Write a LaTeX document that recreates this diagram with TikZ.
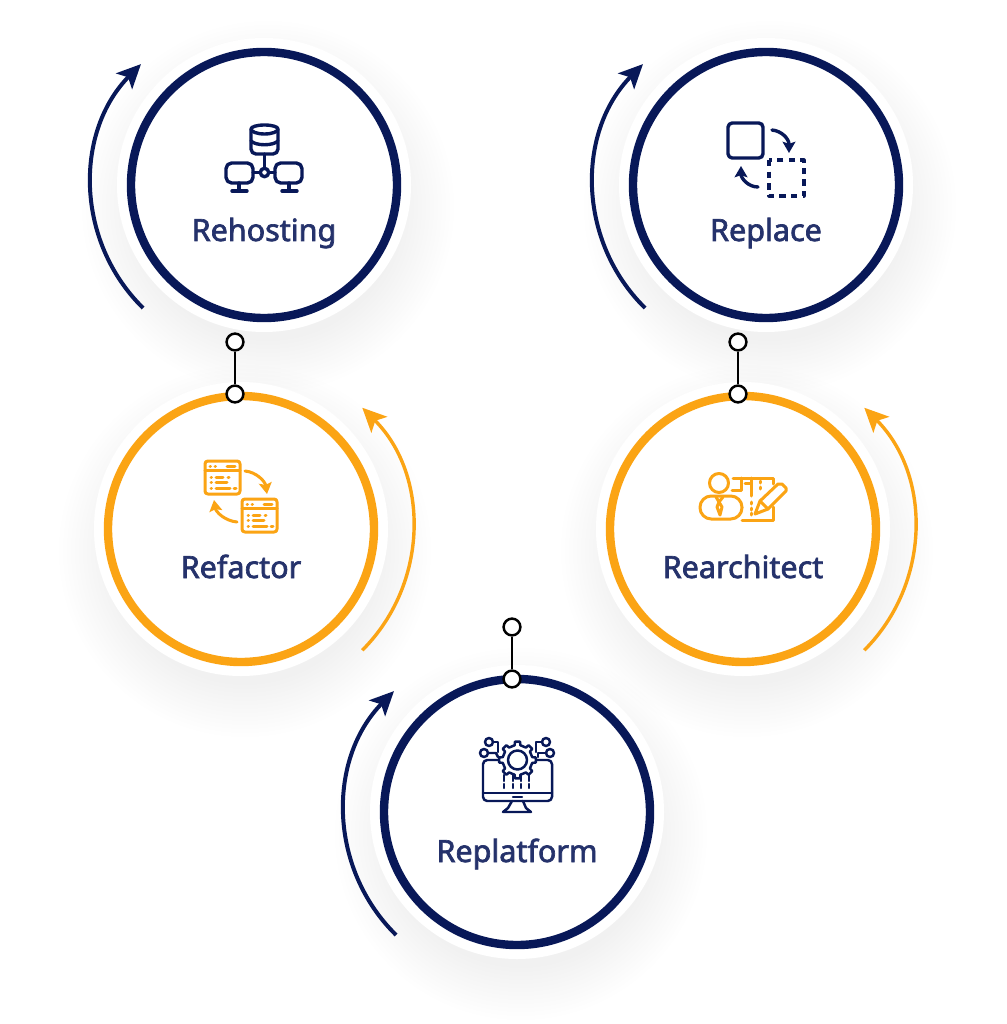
\documentclass[tikz,border=0pt]{standalone}
\usepackage{fontspec}
\setmainfont{Noto Sans}
\newfontfamily\labelfont{Noto Sans}[FakeBold=2.2]
\usepackage{xcolor}
\usetikzlibrary{
    arrows.meta,
    positioning,
    calc
}
\definecolor{navyline}{HTML}{081858}
\definecolor{orangeline}{HTML}{FBA414}
\definecolor{labeltext}{HTML}{25326B}
\tikzset{
    ring/.style={
        circle,
        draw,
        line width=2.1mm,
        fill=white,
        minimum size=66.5mm,
        inner sep=0pt
    }
}
\tikzset{
    steplabel/.style={
        anchor=base,
        font=\labelfont\fontsize{21.7}{26}\selectfont,
        text=labeltext,
        inner sep=0pt
    }
}
\tikzset{
    turn/.style={
        line width=1mm,
        -{Stealth[length=6mm,width=5.6mm,inset=1.4mm]}
    }
}
\tikzset{
    pin/.style={
        circle,
        draw=black,
        line width=0.62mm,
        fill=white,
        minimum size=4.2mm,
        inner sep=0pt
    }
}
\tikzset{
    pinline/.style={
        draw=black,
        line width=0.62mm
    }
}
\tikzset{
    icon/.style={
        line width=0.85mm,
        line join=round,
        line cap=round
    }
}
\tikzset{
    iconarrow/.style={
        icon,
        -{Stealth[length=2.8mm,width=3.2mm,inset=0.5mm]}
    }
}

\begin{document}
\begin{tikzpicture}[x=0.25mm, y=-0.25mm]

\useasboundingbox (0,0) rectangle (1006,1024);

% ------------------------------------------------------------
% Soft shadows and white halos
% ------------------------------------------------------------

\foreach \cx/\cy in {264/185,766/185,241/529,743/529,517/812} {
    \foreach \r in {134,138,...,186} {
        \fill[black, opacity=0.0024] (\cx+4,\cy+22) circle[radius=\r];
    }
}
\foreach \cx/\cy in {264/185,766/185,241/529,743/529,517/812} {
    \fill[white] (\cx,\cy) circle[radius=147];
}

% ------------------------------------------------------------
% Rings and names
% ------------------------------------------------------------

\node[ring, draw=navyline] (rehosting) at (264,185) {};
\node[ring, draw=navyline] (replace) at (766,185) {};
\node[ring, draw=orangeline] (refactor) at (241,529) {};
\node[ring, draw=orangeline] (rearchitect) at (743,529) {};
\node[ring, draw=navyline] (replatform) at (517,812) {};

\node[steplabel] (rehostinglabel) at (264,241) {Rehosting};
\node[steplabel] (replacelabel) at (766,241) {Replace};
\node[steplabel] (refactorlabel) at (241,578) {Refactor};
\node[steplabel] (rearchitectlabel) at (743,578) {Rearchitect};
\node[steplabel] (replatformlabel) at (517,862) {Replatform};

% ------------------------------------------------------------
% Turning arrows
% ------------------------------------------------------------

\draw[turn, navyline] (rehosting.center) ++(134.5:172.5) arc[start angle=134.5, end angle=224.5, radius=172.5];
\draw[turn, navyline] (replace.center) ++(134.5:172.5) arc[start angle=134.5, end angle=224.5, radius=172.5];
\draw[turn, navyline] (replatform.center) ++(134.5:172.5) arc[start angle=134.5, end angle=224.5, radius=172.5];
\draw[turn, orangeline, line width=0.85mm] (refactor.center) ++(45:171.5) arc[start angle=45, end angle=-45, radius=171.5];
\draw[turn, orangeline, line width=0.85mm] (rearchitect.center) ++(45:171.5) arc[start angle=45, end angle=-45, radius=171.5];

% ------------------------------------------------------------
% Pins
% ------------------------------------------------------------

\node[pin] (pinA) at (235,342) {};
\node[pin] (pinB) at (235,394) {};
\node[pin] (pinC) at (738,342) {};
\node[pin] (pinD) at (738,394) {};
\node[pin] (pinE) at (512,627) {};
\node[pin] (pinF) at (512,679) {};
\draw[pinline] (pinA) -- (pinB);
\draw[pinline] (pinC) -- (pinD);
\draw[pinline] (pinE) -- (pinF);

% ------------------------------------------------------------
% Icon: servers
% ------------------------------------------------------------

\begin{scope}[icon, draw=navyline, navyline]
    \draw (251,129) arc[start angle=180, end angle=360, x radius=13.5, y radius=4]
        arc[start angle=0, end angle=180, x radius=13.5, y radius=5];
    \draw (251,129) -- (251,149) arc[start angle=180, end angle=90, radius=5] -- (273,154)
        arc[start angle=90, end angle=0, radius=5] -- (278,129);
    \draw (251,141) .. controls (256,146) and (273,146) .. (278,141);
    \draw (264.5,154) -- (264.5,168);
    \draw (264.5,172.5) circle[radius=4.2];
    \draw (253,172.5) -- (260.3,172.5);
    \draw (268.7,172.5) -- (275,172.5);
    \draw[rounded corners=4pt] (226,163) rectangle (253,183);
    \draw[rounded corners=4pt] (275,163) rectangle (302,183);
    \draw (239,183) -- (239,191);
    \draw (232,191) -- (247,191);
    \draw (289,183) -- (289,191);
    \draw (282,191) -- (297,191);
\end{scope}

% ------------------------------------------------------------
% Icon: swap squares
% ------------------------------------------------------------

\begin{scope}[icon, draw=navyline]
    \draw[rounded corners=3pt] (728,123) rectangle (763,158);
    \draw[dash pattern=on 1.6mm off 1.3mm, line cap=butt, line width=0.8mm] (769,160) rectangle (804,196);
    \draw[iconarrow, navyline] (772,130) .. controls (782,131) and (789,139) .. (789,153);
    \draw[iconarrow, navyline] (758,187) .. controls (748,187) and (741,178) .. (741,166);
\end{scope}

% ------------------------------------------------------------
% Icon: two code windows
% ------------------------------------------------------------

\begin{scope}[icon, draw=orangeline, line width=0.75mm]
    \foreach \dx/\dy in {0/0,37/38} {
        \begin{scope}[shift={(\dx,\dy)}]
            \draw[rounded corners=2pt] (205,461) rectangle (240,494);
            \draw (205,470) -- (240,470);
            \draw (210,466) -- (210.5,466);
            \draw (215,466) -- (215.5,466);
            \draw (227,466) -- (235,466);
            \draw (211,477) -- (211.5,477);
            \draw (216,477) -- (223,477);
            \draw (228,477) -- (229,477);
            \draw (211,482) -- (211.5,482);
            \draw (216,482) -- (227,482);
            \draw (211,488) -- (211.5,488);
            \draw (216,488) -- (230,488);
            \draw (234,488) -- (236,488);
        \end{scope}
    }
    \draw[iconarrow, orangeline, line width=0.75mm] (245,471) .. controls (256,472) and (265,481) .. (267,494);
    \draw[iconarrow, orangeline, line width=0.75mm] (237,522) .. controls (225,521) and (216,512) .. (214,500);
\end{scope}

% ------------------------------------------------------------
% Icon: architect with plan
% ------------------------------------------------------------

\begin{scope}[icon, draw=orangeline, line width=0.75mm]
    \draw (719,483) circle[radius=9.5];
    \draw[rounded corners=8pt] (700,519) -- (700,496) -- (742,496) -- (742,519) -- cycle;
    \draw (716,497) -- (719,502) -- (723,497);
    \draw (717,507) -- (719,502) -- (722,507) -- (720,515) -- (717,507);
    \draw (733,478) -- (773,478) -- (773,484);
    \draw (732,490) -- (741,490) -- (741,478);
    \draw (745,483) -- (751,483);
    \draw (751,478) -- (751,496);
    \draw (760,481) -- (760,483);
    \draw (760,487) -- (760,489);
    \draw (751,502) -- (751,504);
    \draw (751,508) -- (751,510);
    \draw (751,513) -- (751,515);
    \draw (742,520) -- (773,520) -- (773,507);
    \draw (755,514) -- (760,501) -- (778,484) -- (782,484) -- (786,488) -- (786,491) -- (768,509) -- cycle;
    \draw (760,501) -- (768,509);
\end{scope}

% ------------------------------------------------------------
% Icon: monitor with gear
% ------------------------------------------------------------

\begin{scope}[icon, draw=navyline, line width=0.62mm]
    \draw[rounded corners=3pt] (483,760) rectangle (552,801);
    \draw (483,793) -- (552,793);
    \draw (513,797) -- (522,797);
    \draw (512,801) -- (508,808) -- (503,812) -- (531,812) -- (526,808) -- (523,801);
    \fill[white] (517.5,760) circle[radius=18];
    \begin{scope}[shift={(517.5,760)}]
        \draw (-11:15) \foreach \a in {0,45,...,315} {
            -- (\a-11:15) -- (\a-8:18.5) -- (\a+8:18.5) -- (\a+11:15)
        } -- cycle;
        \draw (0,0) circle[radius=9.5];
    \end{scope}
    \draw (489,742) circle[radius=4];
    \draw (484,753) circle[radius=4];
    \draw (493,742) -- (498,742) -- (498,752);
    \draw (488,753) -- (496,753) -- (498,757);
    \draw (546,742) circle[radius=4];
    \draw (550,753) circle[radius=4];
    \draw (542,742) -- (536,742) -- (536,752);
    \draw (546,753) -- (538,753) -- (538,757);
    \foreach \bx in {504,513,521,529} {
        \draw (\bx,775) -- (\bx,781);
        \draw (\bx,784) -- (\bx,788);
    }
\end{scope}

\end{tikzpicture}
\end{document}
